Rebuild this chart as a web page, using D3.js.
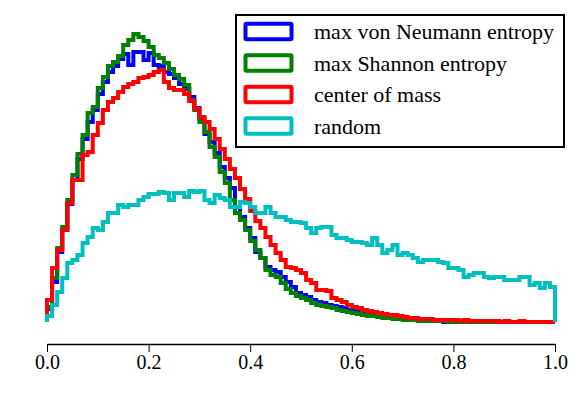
<!DOCTYPE html>
<html>
<head>
<meta charset="utf-8">
<script src="https://cdnjs.cloudflare.com/ajax/libs/d3/7.8.5/d3.min.js"></script>
<style>
  body { margin:0; background:#fff; }
</style>
</head>
<body>
<div id="chart-area"></div>
<script>
var width = 582, height = 394;
var serif = "'Liberation Serif', 'Times New Roman', Times, serif";

// histogram counts, 100 bins of width 0.01 on [0, 1]
var vonNeumann = [13, 40, 70, 92, 118, 142, 163, 183, 200, 212,
  228, 240, 250, 256, 263, 268, 257, 270, 270, 262,
  269, 257, 256, 250, 248, 244, 238, 233, 225, 214,
  203, 188, 180, 169, 155, 144, 134, 115, 105, 94,
  84, 70, 64, 55, 52, 50, 45, 40, 35, 29,
  27, 25, 22, 20, 19, 17, 16, 15, 14, 12,
  11, 10, 9, 8, 7, 6, 5, 4, 4, 3,
  3, 2, 2, 1, 1, 1, 1, 1, 0, 1,
  0, 0, 1, 0, 0, 0, 0, 0, 0, 0,
  0, 0, 0, 0, 0, 0, 0, 0, 0, 0];

var shannon = [15, 44, 74, 95, 122, 147, 168, 187, 209, 215,
  234, 245, 256, 260, 266, 277, 282, 288, 285, 281,
  275, 267, 264, 259, 253, 247, 243, 237, 222, 212,
  200, 190, 175, 165, 150, 139, 122, 109, 102, 92,
  81, 72, 64, 52, 47, 45, 39, 33, 29, 26,
  24, 22, 19, 17, 16, 15, 14, 12, 11, 10,
  9, 8, 7, 6, 6, 5, 4, 4, 3, 3,
  2, 2, 2, 1, 1, 1, 1, 1, 1, 0,
  1, 0, 0, 1, 0, 0, 0, 0, 0, 0,
  0, 0, 0, 0, 0, 0, 0, 0, 0, 0];

var centerOfMass = [22, 54, 72, 92, 119, 142, 142, 167, 170, 187,
  199, 212, 220, 224, 230, 235, 238, 240, 244, 245,
  247, 250, 252, 240, 234, 232, 232, 228, 221, 213,
  205, 200, 193, 183, 173, 163, 153, 144, 133, 123,
  111, 101, 94, 85, 77, 69, 62, 55, 54, 52,
  49, 42, 39, 32, 32, 31, 24, 22, 20, 17,
  15, 14, 12, 11, 10, 9, 8, 7, 7, 6,
  5, 4, 4, 3, 3, 3, 2, 2, 2, 2,
  2, 1, 2, 1, 1, 1, 1, 1, 1, 0,
  1, 0, 0, 1, 0, 0, 0, 0, 0, 0];

var random = [6, 17, 30, 44, 59, 62, 67, 79, 85, 94,
  92, 100, 109, 109, 117, 115, 117, 117, 122, 125,
  128, 128, 130, 129, 122, 129, 129, 125, 131, 130,
  131, 122, 119, 127, 124, 122, 115, 115, 120, 119,
  115, 109, 109, 115, 109, 105, 105, 102, 100, 100,
  99, 94, 89, 94, 95, 95, 87, 84, 84, 82,
  80, 80, 79, 77, 84, 77, 69, 72, 77, 67,
  69, 67, 64, 60, 62, 62, 62, 60, 59, 54,
  54, 52, 45, 47, 49, 49, 45, 44, 45, 45,
  42, 42, 42, 45, 45, 37, 39, 34, 39, 35];

var labels = ["max von Neumann entropy", "max Shannon entropy", "center of mass", "random"];
var colors = ["#0000ff", "#008000", "#ff0000", "#00bfbf"];
var tickValues = [0.0, 0.2, 0.4, 0.6, 0.8, 1.0];
var binWidth = 0.01;

var series = [vonNeumann, shannon, centerOfMass, random];

var svg = d3.select("#chart-area")
    .append("svg")
    .attr("width", width)
    .attr("height", height);

var x = d3.scaleLinear()
    .domain([0, 1])
    .range([47, 555]);
var y = d3.scaleLinear()
    .domain([0, 300])
    .range([322, 22]);

var line = d3.line()
    .x(function(d){ return x(d[0]); })
    .y(function(d){ return y(d[1]); })
    .curve(d3.curveStepAfter);

function stepPoints(counts){
  var pts = [[0, 0]];
  counts.forEach(function(c, i){
    pts.push([i * binWidth, c]);
  });
  pts.push([counts.length * binWidth, counts[counts.length - 1]]);
  pts.push([counts.length * binWidth, 0]);
  return pts;
}

svg.selectAll(".hist")
    .data(series)
    .enter()
    .append("path")
    .attr("class", "hist")
    .attr("d", function(d){ return line(stepPoints(d)); })
    .attr("fill", "none")
    .attr("stroke", function(d, i){ return colors[i]; })
    .attr("stroke-width", 4)
    .attr("stroke-linejoin", "miter");

// bottom axis, moved down from the data
var xAxisCall = d3.axisBottom(x)
    .tickValues(tickValues)
    .tickFormat(d3.format(".1f"))
    .tickSizeInner(8)
    .tickSizeOuter(0)
    .tickPadding(3);
var xAxis = svg.append("g")
    .attr("class", "x axis")
    .attr("transform", "translate(0,344)")
    .call(xAxisCall)
    .attr("font-family", null);
xAxis.select(".domain")
    .attr("stroke", "#000")
    .attr("stroke-width", 1.5);
xAxis.selectAll(".tick line")
    .attr("stroke", "#000")
    .attr("stroke-width", 1);
xAxis.selectAll(".tick text")
    .style("font-family", serif)
    .style("font-size", "20px")
    .attr("fill", "#000");

// legend
var legend = svg.append("g")
    .attr("class", "legend");
legend.append("rect")
    .attr("x", 236)
    .attr("y", 15)
    .attr("width", 328)
    .attr("height", 132)
    .attr("fill", "#fff")
    .attr("stroke", "#000")
    .attr("stroke-width", 2);

var rows = legend.selectAll(".row")
    .data(labels)
    .enter()
    .append("g")
    .attr("class", "row")
    .attr("transform", function(d, i){
      return "translate(0," + (31.5 + 31.5 * i) + ")";
    });
rows.append("rect")
    .attr("x", 245.5)
    .attr("y", -7.75)
    .attr("width", 46)
    .attr("height", 15.5)
    .attr("rx", 1)
    .attr("fill", "#fff")
    .attr("stroke", function(d, i){ return colors[i]; })
    .attr("stroke-width", 4);
rows.append("text")
    .attr("x", 314)
    .attr("y", 7.5)
    .style("font-family", serif)
    .style("font-size", "22px")
    .attr("fill", "#000")
    .text(function(d){ return d; });
</script>
</body>
</html>
